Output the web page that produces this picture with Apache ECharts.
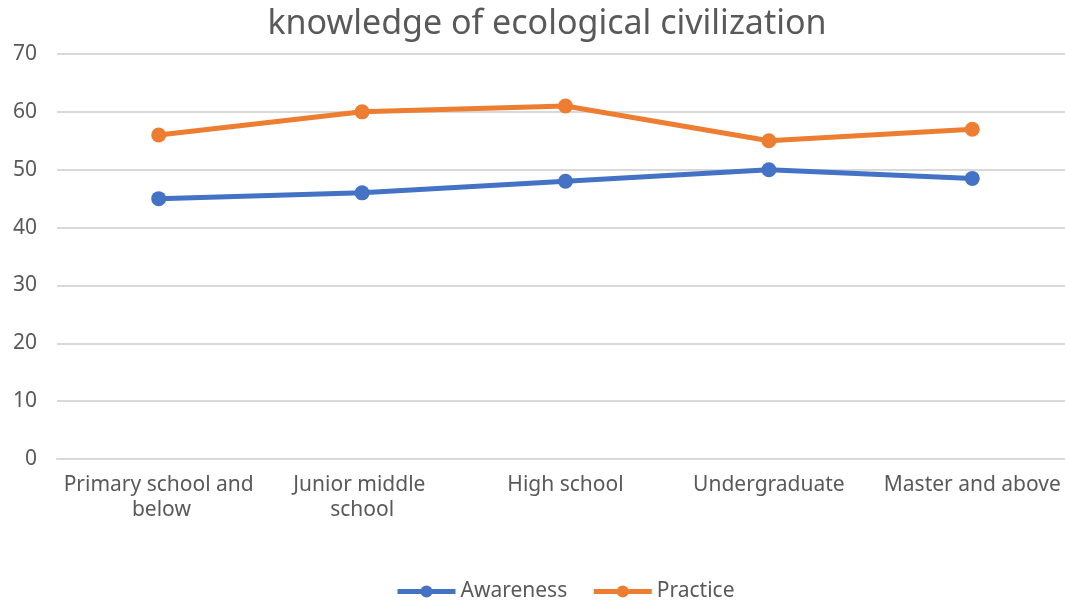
<!DOCTYPE html>
<html><head><meta charset="utf-8">
<script src="https://cdn.jsdelivr.net/npm/echarts@6/dist/echarts.min.js"></script>
<style>html,body{margin:0;padding:0;background:#fff;overflow:hidden;width:1065px;height:603px}#c{width:1094px;height:603px}</style>
</head><body><div id="c"></div>
<script>
var categories = ["Primary school and below", "Junior middle school", "High school", "Undergraduate", "Master and above"];
var awareness = [45, 46, 48, 50, 48.5];
var practice = [56, 60, 61, 55, 57];
var seriesNames = ["Awareness", "Practice"];
var yTicks = {min: 0, max: 70, interval: 10};

var chart = echarts.init(document.getElementById('c'), null, {renderer: 'canvas'});
var font = '"Noto Sans", sans-serif';
chart.setOption({
  animation: false,
  title: {text: 'knowledge of ecological civilization', left: 'center', top: 2,
    textStyle: {fontFamily: font, fontWeight: 'normal', fontSize: 34, color: '#595959'}},
  legend: {top: 576, left: 390, itemWidth: 58, itemHeight: 15, itemGap: 24,
    lineStyle: {width: 5},
    textStyle: {fontFamily: font, fontSize: 21, color: '#595959'},
    data: seriesNames},
  grid: {left: 57, width: 1017, top: 54, bottom: 144, containLabel: false},
  xAxis: {type: 'category', data: categories, boundaryGap: true,
    axisLine: {lineStyle: {color: '#d9d9d9', width: 2}}, axisTick: {show: false},
    axisLabel: {fontFamily: font, fontSize: 21, color: '#595959', width: 195, overflow: 'break', interval: 0, margin: 14, lineHeight: 25}},
  yAxis: {type: 'value', min: yTicks.min, max: yTicks.max, interval: yTicks.interval,
    axisLine: {show: false}, axisTick: {show: false},
    splitLine: {lineStyle: {color: '#d9d9d9', width: 2}},
    axisLabel: {fontFamily: font, fontSize: 21, color: '#595959', margin: 20}},
  series: [
    {name: seriesNames[0], type: 'line', data: awareness, symbol: 'circle', symbolSize: 15,
      itemStyle: {color: '#4472C4'}, lineStyle: {width: 5, color: '#4472C4'}},
    {name: seriesNames[1], type: 'line', data: practice, symbol: 'circle', symbolSize: 15,
      itemStyle: {color: '#ED7D31'}, lineStyle: {width: 5, color: '#ED7D31'}}
  ]
});
</script></body></html>
